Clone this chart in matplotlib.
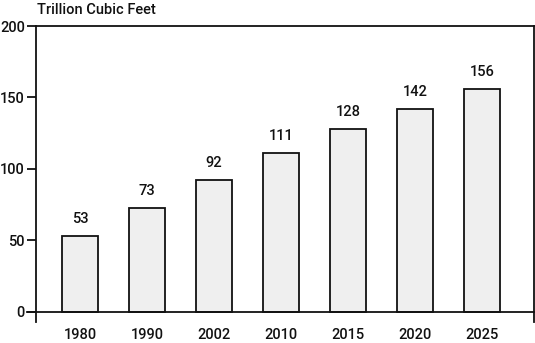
import matplotlib
matplotlib.use("Agg")
import matplotlib.pyplot as plt

years = ["1980", "1990", "2002", "2010", "2015", "2020", "2025"]
consumption = [53, 73, 92, 111, 128, 142, 156]
y_ticks = [0, 50, 100, 150, 200]

plt.rcParams["font.family"] = ["Roboto", "DejaVu Sans"]
plt.rcParams["font.size"] = 10.5
plt.rcParams["font.weight"] = "medium"
ink = "#111111"

fig = plt.figure(figsize=(5.35, 3.43), dpi=100)
ax = fig.add_axes([36 / 535, 1 - 322 / 343, (534 - 36) / 535, (322 - 26) / 343])

x = list(range(len(years)))
ax.bar(x, consumption, width=0.54, color="#efefef", edgecolor=ink, linewidth=1.3, zorder=2)
for xi, v in zip(x, consumption):
    ax.text(xi, v + 7, str(v), ha="center", va="bottom", color=ink)

# zero baseline, pokes out to the left like a tick
ax.axhline(0, color=ink, linewidth=1.3, zorder=3, clip_on=False, xmin=-9 / 498, xmax=1)

ax.set_xlim(-0.657, 6.776)
ax.set_ylim(-7, 200)
ax.set_yticks(y_ticks)
ax.set_yticklabels([str(t) for t in y_ticks])
ax.set_xticks(x)
ax.set_xticklabels(years)
ax.tick_params(axis="y", length=6.5, width=1.3, pad=1.5, colors=ink)
ax.tick_params(axis="x", length=0, pad=4, colors=ink)

for side in ("left", "right", "top"):
    ax.spines[side].set_linewidth(1.3)
    ax.spines[side].set_color(ink)
ax.spines["bottom"].set_visible(False)

fig.text(37 / 535, 1 - 3 / 343, "Trillion Cubic Feet", ha="left", va="top", color=ink)

fig.savefig("out.png", dpi=100)
